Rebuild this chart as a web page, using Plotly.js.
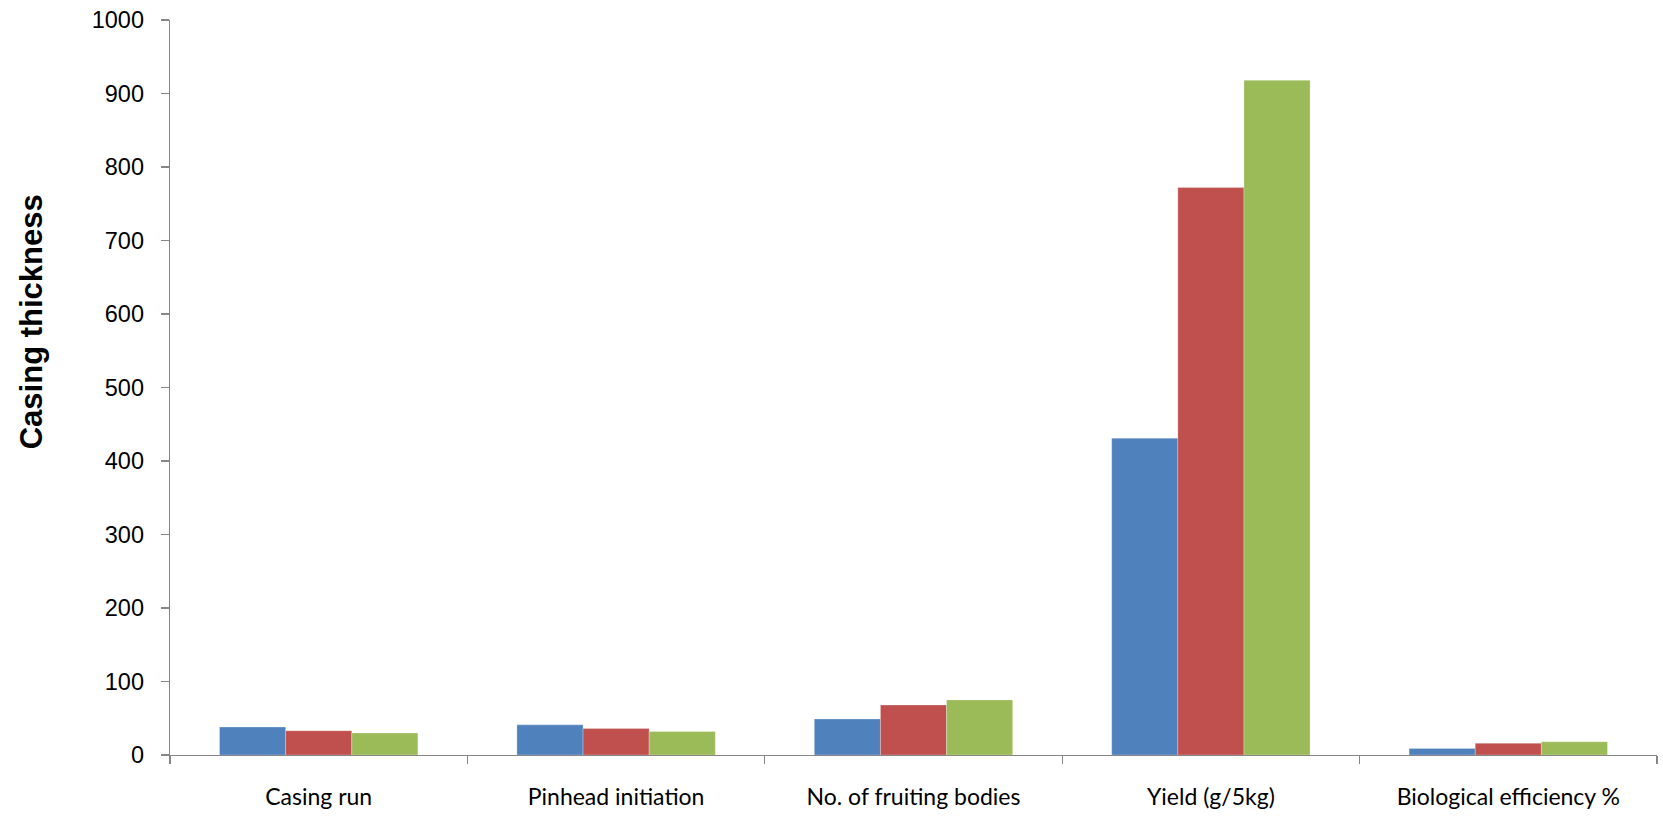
<!DOCTYPE html>
<html>
<head>
<meta charset="utf-8">
<script src="https://cdn.plot.ly/plotly-3.0.1.min.js"></script>
<style>
  html, body { margin: 0; padding: 0; background: #ffffff; }
  #chart { width: 1663px; height: 817px; }
</style>
</head>
<body>
<div id="chart"></div>
<script>
// Mushroom growth parameters for three casing thicknesses
const categories = [
  "Casing run",
  "Pinhead initiation",
  "No. of fruiting bodies",
  "Yield (g/5kg)",
  "Biological efficiency %"
];
const thicknessA = [38, 41, 49, 431, 9];
const thicknessB = [33, 36, 68, 772, 16];
const thicknessC = [30, 32, 75, 918, 18];
const yTickValues = [0, 100, 200, 300, 400, 500, 600, 700, 800, 900, 1000];

const seriesColors = ["#4F81BD", "#C0504D", "#9BBB59"];
const seriesValues = [thicknessA, thicknessB, thicknessC];
const seriesNames = ["Thickness A", "Thickness B", "Thickness C"];

const traces = seriesValues.map((vals, i) => ({
  type: "bar",
  name: seriesNames[i],
  x: categories,
  y: vals,
  marker: {
    color: seriesColors[i],
    line: { width: 0.6, color: "rgba(255,255,255,0.45)" }
  },
  hoverinfo: "x+y+name"
}));

const axisGray = "#868686";

const layout = {
  width: 1663,
  height: 817,
  margin: { l: 170, r: 5.5, t: 20, b: 61.7, pad: 0 },
  paper_bgcolor: "#ffffff",
  plot_bgcolor: "#ffffff",
  barmode: "group",
  bargap: 0.333,
  bargroupgap: 0,
  showlegend: false,
  font: { family: "Liberation Sans, Arial, sans-serif", color: "#000000" },
  xaxis: {
    type: "category",
    showline: true,
    linecolor: axisGray,
    linewidth: 1.3,
    showgrid: false,
    zeroline: false,
    ticks: "outside",
    tickson: "boundaries",
    ticklen: 8,
    tickcolor: axisGray,
    tickwidth: 1.3,
    tickfont: { family: "Lato, 'Open Sans', sans-serif", size: 23, color: "#000000" },
    ticklabelstandoff: 21
  },
  yaxis: {
    range: [0, 1000],
    tickvals: yTickValues,
    ticktext: yTickValues.map(String),
    showline: true,
    linecolor: axisGray,
    linewidth: 1.3,
    showgrid: false,
    zeroline: false,
    ticks: "outside",
    ticklen: 8,
    tickcolor: axisGray,
    tickwidth: 1.3,
    tickfont: { family: "Liberation Sans, Arial, sans-serif", size: 23.5, color: "#000000" },
    ticklabelstandoff: 12
  },
  annotations: [{
    text: "<b>Casing thickness</b>",
    xref: "paper",
    yref: "paper",
    x: -0.093,
    y: 0.5897,
    xanchor: "center",
    yanchor: "middle",
    textangle: -90,
    showarrow: false,
    font: { family: "Liberation Sans, Arial, sans-serif", size: 31, color: "#000000" }
  }]
};

Plotly.newPlot("chart", traces, layout, { displayModeBar: false, staticPlot: true });
</script>
</body>
</html>
